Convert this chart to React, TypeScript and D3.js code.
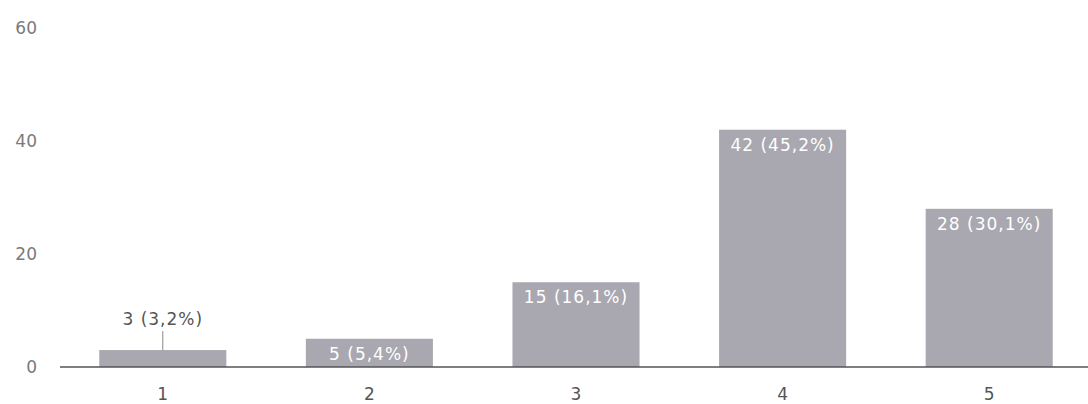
import React from "react";
import * as d3 from "d3";

const categories = ["1", "2", "3", "4", "5"];
const counts = [3, 5, 15, 42, 28];
const labels = ["3 (3,2%)", "5 (5,4%)", "15 (16,1%)", "42 (45,2%)", "28 (30,1%)"];
const yTicks = [0, 20, 40, 60];

const W = 1088;
const H = 404;

export default function App() {
  const x = d3.scaleBand<string>().domain(categories).range([60, 1092]).paddingInner(0.385).paddingOuter(0.19);
  const y = d3.scaleLinear().domain([0, 60]).range([367, 28]);
  const barColor = "#a9a8b0";
  const font = "DejaVu Sans, sans-serif";
  return (
    <svg width={W} height={H} style={{ position: "absolute", left: 0, top: 0, background: "#fff" }}>
      {yTicks.map((t) => (
        <text key={t} x={37} y={y(t)} dy="0.35em" textAnchor="end" fontSize={17} fill="#7a7a7a" fontFamily={font}>
          {t}
        </text>
      ))}
      {categories.map((c, i) => {
        const bx = x(c)!;
        const bw = x.bandwidth();
        const top = y(counts[i]);
        const inside = y(0) - top > 22;
        return (
          <g key={c}>
            <rect x={bx} y={top} width={bw} height={y(0) - top} fill={barColor} />
            {inside ? (
              <text x={bx + bw / 2} y={top + 21} textAnchor="middle" fontSize={17} letterSpacing={1} fill="#fff" fontFamily={font}>
                {labels[i]}
              </text>
            ) : (
              <g>
                <line x1={bx + bw / 2} x2={bx + bw / 2} y1={top - 19} y2={top} stroke="#888" strokeWidth={1} />
                <text x={bx + bw / 2} y={top - 25} textAnchor="middle" fontSize={17} letterSpacing={1} fill="#555" fontFamily={font}>
                  {labels[i]}
                </text>
              </g>
            )}
            <text x={bx + bw / 2} y={y(0) + 27} dy="0.35em" textAnchor="middle" fontSize={17} fill="#555" fontFamily={font}>
              {c}
            </text>
          </g>
        );
      })}
      <line x1={60} x2={1088} y1={y(0)} y2={y(0)} stroke="#555" strokeWidth={1.5} />
    </svg>
  );
}
